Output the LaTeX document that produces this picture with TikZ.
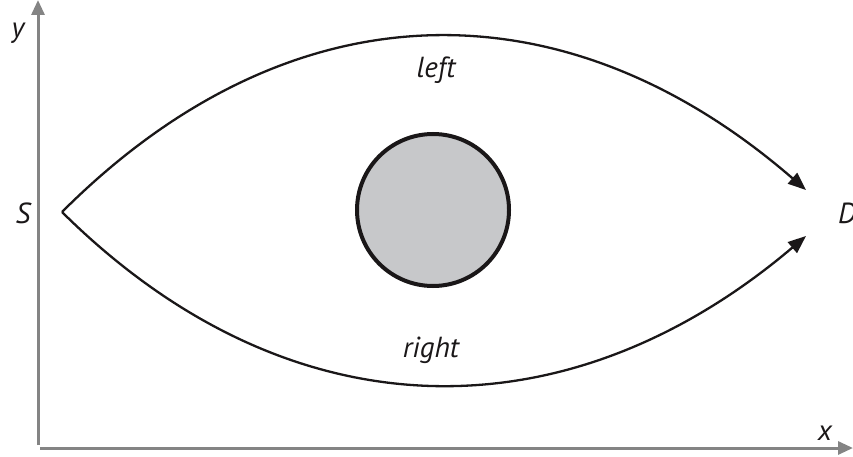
\documentclass[tikz,border=0pt]{standalone}
\usepackage{fontspec}
\newfontfamily\lblfont{PT Sans}
\usetikzlibrary{arrows.meta}
\definecolor{axisgray}{HTML}{848484}
\definecolor{obstgray}{HTML}{C7C8CA}
\definecolor{ink}{HTML}{1A1718}
\tikzset{
  axisline/.style={draw=axisgray, line width=3pt, -{Triangle[length=15pt,width=13pt]}},
  pathline/.style={draw=ink, line width=2.3pt, -{Triangle[length=18pt,width=14pt]}},
  lbl/.style={font=\lblfont\itshape\fontsize{29}{33}\selectfont, text=ink, inner sep=0pt},
  obstacle/.style={circle, draw=ink, fill=obstgray, line width=4pt, minimum size=152pt, inner sep=0pt}
}
\begin{document}
\begin{tikzpicture}[x=1pt,y=-1pt]
\useasboundingbox (0,0) rectangle (853,457);
% axes
\coordinate (yb) at (38,445);
\coordinate (yt) at (38,0);
\coordinate (xl) at (40,448);
\coordinate (xr) at (853,448);
\draw[axisline] (yb) -- (yt);
\draw[axisline] (xl) -- (xr);
\node[lbl] (ylab) at (18,33) {y};
\node[lbl] (xlab) at (825,433) {x};
% points
\coordinate (s) at (62,212);
\coordinate (dtop) at (806,190);
\coordinate (dbot) at (806,236);
\node[lbl] (slab) at (23,213) {S};
\node[lbl, anchor=west] (dlab) at (838,213) {D};
% obstacle
\node[obstacle] (obs) at (433,210) {};
% paths
\draw[pathline] (s) .. controls (292,-18) and (566,-18) .. (dtop);
\draw[pathline] (s) .. controls (290,438) and (568,438) .. (dbot);
\node[lbl] (left) at (436,70) {left};
\node[lbl] (right) at (431,350) {right};
\end{tikzpicture}
\end{document}
